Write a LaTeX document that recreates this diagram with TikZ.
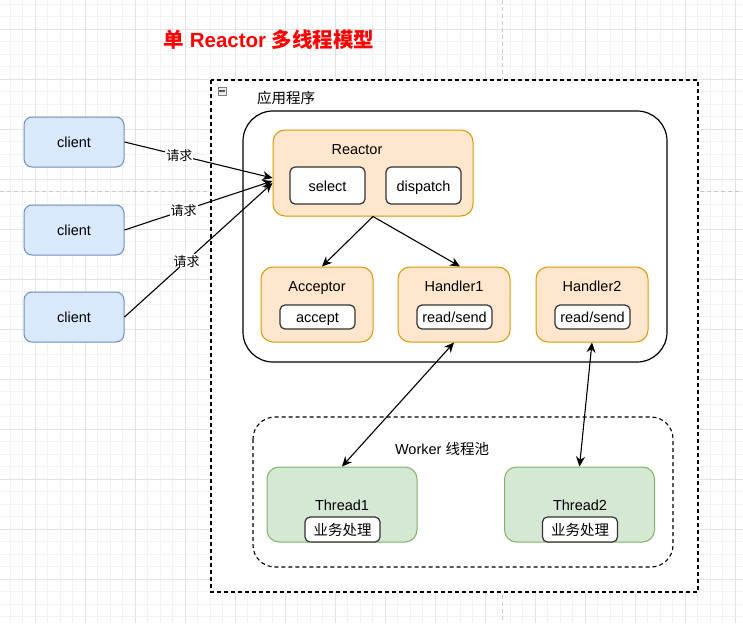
\documentclass[tikz,border=0pt]{standalone}
\usepackage{fontspec}
\setmainfont{Liberation Sans}
\newfontfamily\cjk{Noto Sans CJK SC}
\usepackage{xcolor}
\usetikzlibrary{arrows.meta}

\definecolor{gridlight}{HTML}{F2F2F2}
\definecolor{griddark}{HTML}{E2E2E2}
\definecolor{pagegray}{HTML}{C8C8C8}
\definecolor{clientfill}{HTML}{DAE8FC}
\definecolor{clientline}{HTML}{6C8EBF}
\definecolor{partfill}{HTML}{FFE6CC}
\definecolor{partline}{HTML}{D79B00}
\definecolor{threadfill}{HTML}{D5E8D4}
\definecolor{threadline}{HTML}{82B366}
\newcommand{\boxfont}{\fontsize{14.5}{17}\selectfont}

\begin{document}
\begin{tikzpicture}[
	x = 1pt, y = -1pt,
	line width = 1pt,
	every node/.style = {font=\boxfont, inner sep=0pt, text height=11pt, text depth=0pt},
	gridminor/.style  = {draw=gridlight, line width=0.6pt},
	gridmajor/.style  = {draw=griddark, line width=0.7pt},
	pageline/.style   = {draw=pagegray, dash pattern=on 4pt off 3pt, line width=0.8pt},
	clientbox/.style  = {draw=clientline, fill=clientfill, rounded corners=8pt,
		minimum width=100pt, minimum height=50pt},
	partbox/.style    = {draw=partline, fill=partfill, rounded corners=12pt},
	threadbox/.style  = {draw=threadline, fill=threadfill, rounded corners=12pt,
		minimum width=150pt, minimum height=75pt},
	opbox/.style      = {draw=black!80, fill=white, rounded corners=5pt,
		line width=1.2pt, minimum width=75pt},
	frame/.style      = {draw=black, dash pattern=on 4pt off 3pt, line width=1.1pt},
	reqlabel/.style   = {fill=white, font=\fontsize{13}{15}\selectfont\cjk, inner sep=1pt},
	arrow/.style      = {draw=black, line width=1.1pt, -{Stealth[length=10pt, width=9pt]}},
	both/.style       = {draw=black, line width=1.1pt,
		{Stealth[length=10pt, width=9pt]}-{Stealth[length=10pt, width=9pt]}}
]
	\useasboundingbox (0,0) rectangle (743,623);
	\fill[white] (0,0) rectangle (743,623);

	% background grid
	\foreach \gx in {0,...,58}
		\draw[gridminor] ({10+12.5*\gx},0) -- ({10+12.5*\gx},623);
	\foreach \gy in {0,...,49}
		\draw[gridminor] (0,{4+12.5*\gy}) -- (743,{4+12.5*\gy});
	\foreach \gx in {0,...,14}
		\draw[gridmajor] ({35+50*\gx},0) -- ({35+50*\gx},623);
	\foreach \gy in {0,...,11}
		\draw[gridmajor] (0,{29+50*\gy}) -- (743,{29+50*\gy});
	\draw[pageline] (0,191) -- (743,191);
	\draw[pageline] (502,0) -- (502,623);

	% title
	\node[text height=15pt, text depth=3pt] (title) at (269,42) {\color{red}\bfseries\fontsize{20.5}{24}\selectfont
		{\cjk 单} Reactor {\cjk 多线程模型}};

	% outer frame
	\draw[frame, fill=white] (211,80) rectangle (698,592);
	\node[draw=gray, fill=gray!15, line width=0.8pt, minimum size=8pt, text height=, text depth=] (fold) at (222,91) {};
	\draw[gray!70!black, line width=1.2pt] (219,91) -- (225,91);
	\node[font=\boxfont\cjk] (apptitle) at (286,98) {应用程序};

	% application
	\draw[draw=black, line width=1.2pt, fill=white, rounded corners=30pt] (243,111) rectangle (667,362);

	% reactor
	\node[partbox, minimum width=200pt, minimum height=86pt] (reactor) at (373,173) {};
	\node (reactortitle) at (357,149) {Reactor};
	\node[opbox, minimum height=37pt] (select) at (327.5,185.5) {select};
	\node[opbox, minimum height=37pt] (dispatch) at (423.5,185.5) {dispatch};

	% handlers
	\node[partbox, minimum width=112pt, minimum height=75pt] (acceptor) at (317,304.5) {};
	\node (acceptortitle) at (317,286) {Acceptor};
	\node[opbox, minimum height=24pt] (accept) at (317.5,317) {accept};

	\node[partbox, minimum width=112pt, minimum height=75pt] (handler1) at (454,304.5) {};
	\node (handler1title) at (454,286) {Handler1};
	\node[opbox, minimum height=24pt] (rw1) at (454.5,317) {read/send};

	\node[partbox, minimum width=112pt, minimum height=75pt] (handler2) at (592,304.5) {};
	\node (handler2title) at (592,286) {Handler2};
	\node[opbox, minimum height=24pt] (rw2) at (592.5,317) {read/send};

	\draw[arrow] (reactor.south) -- ([xshift=5pt]acceptor.north);
	\draw[arrow] (reactor.south) -- ([xshift=6pt]handler1.north);

	% worker pool
	\draw[frame, fill=white, rounded corners=22pt] (253,417) rectangle (673,567);
	\node (pooltitle) at (442,449) {Worker {\cjk 线程池}};

	\node[threadbox] (thread1) at (342,504.5) {};
	\node (thread1title) at (342,505) {Thread1};
	\node[opbox, minimum width=75pt, minimum height=25pt, font=\boxfont\cjk] (job1) at (342.5,529.5) {业务处理};

	\node[threadbox] (thread2) at (579.5,504.5) {};
	\node (thread2title) at (580,505) {Thread2};
	\node[opbox, minimum width=75pt, minimum height=25pt, font=\boxfont\cjk] (job2) at (580,529.5) {业务处理};

	\draw[both] (handler1.south) -- (thread1.north);
	\draw[both] (handler2.south) -- (thread2.north);

	% clients
	\node[clientbox] (client1) at (74,142) {client};
	\node[clientbox] (client2) at (74,230) {client};
	\node[clientbox] (client3) at (74,317) {client};

	\draw[arrow] (client1.east) -- ([yshift=-5pt]reactor.west)
		node[reqlabel, pos=0.37] (req1) {请求};
	\draw[arrow] (client2.east) -- ([yshift=-8pt]reactor.west)
		node[reqlabel, pos=0.4] (req2) {请求};
	\draw[arrow] (client3.east) -- ([yshift=-10pt]reactor.west)
		node[reqlabel, pos=0.42] (req3) {请求};
\end{tikzpicture}
\end{document}
